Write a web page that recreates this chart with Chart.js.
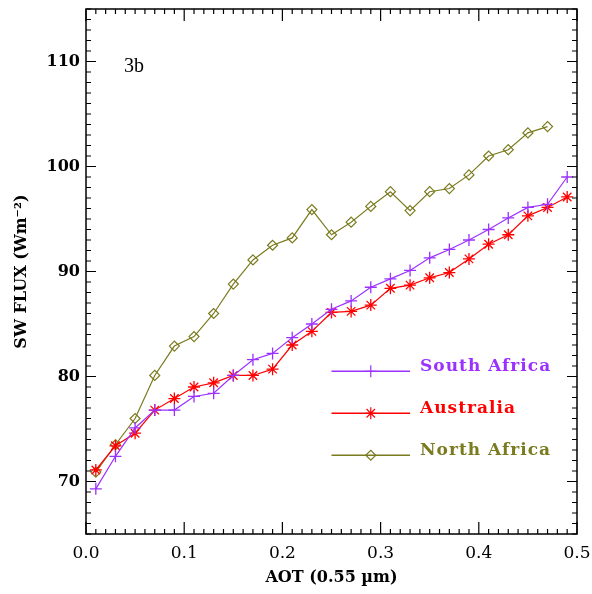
<!DOCTYPE html>
<html>
<head>
<meta charset="utf-8">
<script src="https://cdn.jsdelivr.net/npm/chart.js@4"></script>
<style>
  body { margin: 0; background: #fff; }
  canvas { display: block; }
</style>
</head>
<body>
<canvas id="fluxChart" width="592" height="594"></canvas>
<script>
// AOT bins (0.55 um)
var aot = [0.01, 0.03, 0.05, 0.07, 0.09, 0.11, 0.13, 0.15, 0.17, 0.19, 0.21, 0.23, 0.25,
           0.27, 0.29, 0.31, 0.33, 0.35, 0.37, 0.39, 0.41, 0.43, 0.45, 0.47, 0.49];
var southAfrica = [69.3, 72.4, 75.1, 76.8, 76.8, 78.1, 78.4, 80.1, 81.6, 82.2, 83.7, 85.0, 86.4,
                   87.2, 88.5, 89.3, 90.1, 91.3, 92.1, 93.0, 94.0, 95.1, 96.1, 96.4, 99.0];
var australia = [71.1, 73.4, 74.6, 76.8, 77.9, 79.0, 79.4, 80.1, 80.1, 80.7, 83.0, 84.3, 86.1,
                 86.2, 86.8, 88.4, 88.7, 89.4, 89.9, 91.2, 92.6, 93.5, 95.3, 96.1, 97.1];
var northAfrica = [70.9, 73.5, 76.0, 80.1, 82.9, 83.8, 86.0, 88.8, 91.1, 92.5, 93.2, 95.9, 93.5,
                   94.7, 96.2, 97.6, 95.8, 97.6, 97.9, 99.2, 101.0, 101.6, 103.2, 103.8];
var xTicks = [0, 0.1, 0.2, 0.3, 0.4, 0.5];
var yTicks = [70, 80, 90, 100, 110];

function pts(ys) {
    return ys.map(function (y, i) { return { x: aot[i], y: y }; });
}

var purple = '#9b30ff';
var red = '#ff0000';
var olive = '#7a7a1e';

// inward ticks on all four sides + frame
var boxTicks = {
    id: 'boxTicks',
    afterDraw: function (chart) {
        var ctx = chart.ctx, a = chart.chartArea;
        var xs = chart.scales.x, ys = chart.scales.y;
        ctx.save();
        ctx.strokeStyle = '#000';
        ctx.lineWidth = 1.5;
        ctx.strokeRect(a.left, a.top, a.right - a.left, a.bottom - a.top);
        ctx.lineWidth = 1.2;
        ctx.beginPath();
        for (var i = 0; i <= 50; i++) {
            var px = xs.getPixelForValue(i / 100);
            var len = (i % 10 === 0) ? 12 : 5;
            ctx.moveTo(px, a.bottom); ctx.lineTo(px, a.bottom - len);
            ctx.moveTo(px, a.top); ctx.lineTo(px, a.top + len);
        }
        for (var v = 65; v <= 115; v++) {
            var py = ys.getPixelForValue(v);
            var l2 = (v % 10 === 0) ? 10 : 5;
            ctx.moveTo(a.left, py); ctx.lineTo(a.left + l2, py);
            ctx.moveTo(a.right, py); ctx.lineTo(a.right - l2, py);
        }
        ctx.stroke();

        // panel label
        ctx.fillStyle = '#000';
        ctx.font = '20px "Liberation Serif"';
        ctx.textBaseline = 'alphabetic';
        ctx.fillText('3b', 124, 72);
        ctx.restore();
    }
};

// legend drawn inside the plot
var innerLegend = {
    id: 'innerLegend',
    afterDraw: function (chart) {
        var ctx = chart.ctx;
        var xs = chart.scales.x, ys = chart.scales.y;
        var x0 = xs.getPixelForValue(0.25), x1 = xs.getPixelForValue(0.33);
        var rows = [80.5, 76.5, 72.5];
        ctx.save();
        chart.data.datasets.forEach(function (ds, i) {
            var y = ys.getPixelForValue(rows[i]);
            ctx.strokeStyle = ds.borderColor;
            ctx.lineWidth = 1.5;
            ctx.beginPath();
            ctx.moveTo(x0, y); ctx.lineTo(x1, y);
            ctx.stroke();
            ctx.lineWidth = 1.2;
            ctx.fillStyle = 'rgba(0,0,0,0)';
            Chart.helpers.drawPoint(ctx, { pointStyle: ds.pointStyle, radius: ds.pointRadius, rotation: 0, borderWidth: 1.2 }, (x0 + x1) / 2, y);
            ctx.fillStyle = ds.borderColor;
            ctx.font = 'bold 17px "DejaVu Serif"';
            ctx.letterSpacing = '1px';
            ctx.textBaseline = 'alphabetic';
            ctx.fillText(ds.label, x1 + 10, y);
        });
        ctx.restore();
    }
};

function noEdgePadding(s) {
    s.paddingTop = 0; s.paddingBottom = 0; s.paddingLeft = 0; s.paddingRight = 0;
}

var ctx1 = document.getElementById('fluxChart').getContext('2d');
var fluxChart = new Chart(ctx1, {
    type: 'line',
    data: {
        datasets: [
            {
                label: 'South Africa',
                data: pts(southAfrica),
                borderColor: purple,
                backgroundColor: purple,
                borderWidth: 1.2,
                pointStyle: 'cross',
                pointRadius: 6,
                pointBorderWidth: 1.3
            },
            {
                label: 'Australia',
                data: pts(australia),
                borderColor: red,
                backgroundColor: red,
                borderWidth: 1.2,
                pointStyle: 'star',
                pointRadius: 6,
                pointBorderWidth: 1.3
            },
            {
                label: 'North Africa',
                data: pts(northAfrica),
                borderColor: olive,
                backgroundColor: 'rgba(0,0,0,0)',
                borderWidth: 1.2,
                pointStyle: 'rectRot',
                pointRadius: 5,
                pointBorderWidth: 1.2
            }
        ]
    },
    options: {
        responsive: false,
        animation: false,
        layout: { padding: { top: 9, right: 15, left: 0, bottom: 0 } },
        plugins: {
            legend: { display: false },
            tooltip: { enabled: false }
        },
        scales: {
            x: {
                type: 'linear',
                min: 0,
                max: 0.5,
                grid: { display: false, drawTicks: false },
                border: { display: false },
                afterBuildTicks: function (s) { s.ticks = xTicks.map(function (v) { return { value: v }; }); },
                afterFit: function (s) { s.height = 60; noEdgePadding(s); },
                ticks: {
                    color: '#000',
                    padding: 9,
                    maxRotation: 0,
                    font: { family: 'DejaVu Serif', size: 17 },
                    callback: function (v) { return v.toFixed(1); }
                },
                title: {
                    display: true,
                    text: 'AOT (0.55 \u00b5m)',
                    color: '#000',
                    padding: 7,
                    font: { family: 'DejaVu Serif', size: 16, weight: 'bold' }
                }
            },
            y: {
                min: 65,
                max: 115,
                grid: { display: false, drawTicks: false },
                border: { display: false },
                afterBuildTicks: function (s) { s.ticks = yTicks.map(function (v) { return { value: v }; }); },
                afterFit: function (s) { s.width = 86; noEdgePadding(s); },
                ticks: {
                    color: '#000',
                    padding: 6,
                    font: { family: 'DejaVu Serif', size: 16, weight: 'bold' }
                },
                title: {
                    display: true,
                    text: 'SW FLUX (Wm\u207b\u00b2)',
                    color: '#000',
                    padding: 12,
                    font: { family: 'DejaVu Serif', size: 16, weight: 'bold' }
                }
            }
        }
    },
    plugins: [boxTicks, innerLegend]
});
</script>
</body>
</html>
